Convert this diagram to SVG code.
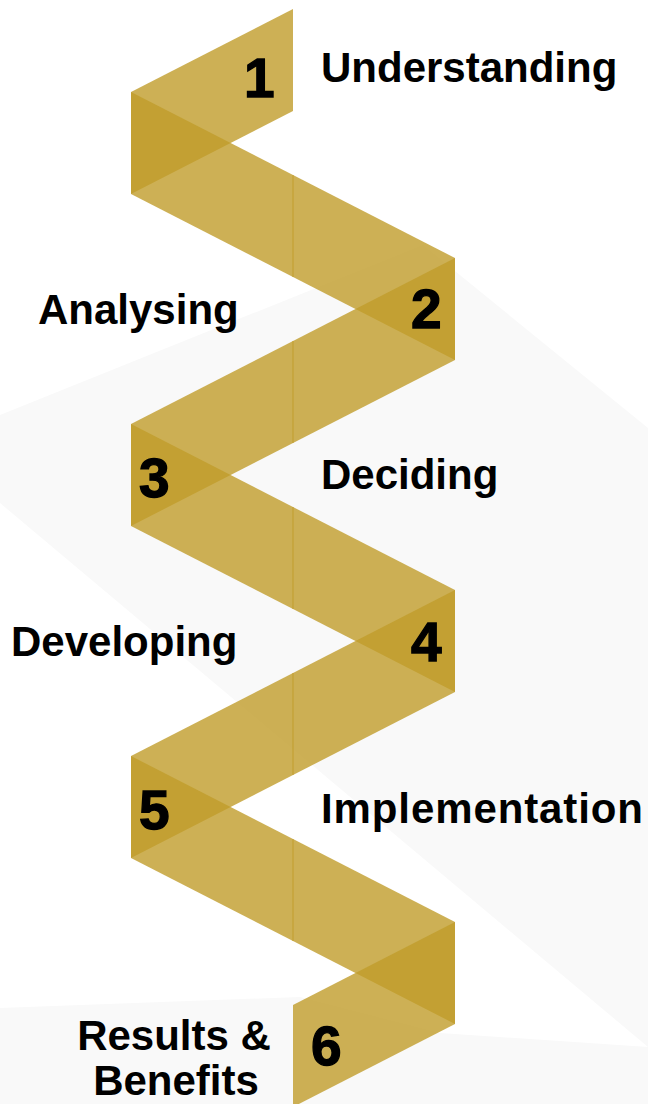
<svg xmlns="http://www.w3.org/2000/svg" width="648" height="1104" viewBox="0 0 648 1104">
  <style>
    .bg { fill: #f9f9f9; }
    .panel { fill: #c09c2a; fill-opacity: 0.8; }
    .seam { stroke: #c09c2a; stroke-opacity: 0.8; stroke-width: 1.2; fill: none; }
    .num { font-family: "Liberation Sans", Arial, sans-serif; font-weight: 700; font-size: 55px; fill: #000; stroke: #000; stroke-width: 1.3; }
    .label { font-family: "Liberation Sans", Arial, sans-serif; font-weight: 700; font-size: 42px; fill: #000; }
  </style>
  <rect x="0" y="0" width="648" height="1104" fill="#ffffff"/>
  <g id="background">
    <polygon class="bg" points="0,415 423,245 648,428 648,1047 0,503"/>
    <polygon class="bg" points="0,1008 300,997 440,1033 648,1047 648,1104 0,1104"/>
  </g>
  <g id="ribbon">
    <polygon class="panel" points="131,92 293,9 293,111 131,194"/>
    <polygon class="panel" points="131,92 455,258 455,360 131,194"/>
    <polygon class="panel" points="131,424 455,258 455,360 131,526"/>
    <polygon class="panel" points="131,424 455,590 455,692 131,526"/>
    <polygon class="panel" points="131,756 455,590 455,692 131,858"/>
    <polygon class="panel" points="131,756 455,922 455,1024 131,858"/>
    <polygon class="panel" points="293,1005 455,922 455,1024 293,1107"/>
    <line class="seam" x1="293" y1="175" x2="293" y2="277"/>
    <line class="seam" x1="293" y1="341" x2="293" y2="443"/>
    <line class="seam" x1="293" y1="507" x2="293" y2="609"/>
    <line class="seam" x1="293" y1="673" x2="293" y2="775"/>
    <line class="seam" x1="293" y1="839" x2="293" y2="941"/>
  </g>
  <g id="step1">
    <text class="num" x="244" y="97">1</text>
    <text class="label" x="321" y="82">Understanding</text>
  </g>
  <g id="step2">
    <text class="num" x="411" y="328">2</text>
    <text class="label" x="38" y="324">Analysing</text>
  </g>
  <g id="step3">
    <text class="num" x="139" y="497">3</text>
    <text class="label" x="321" y="489">Deciding</text>
  </g>
  <g id="step4">
    <text class="num" x="411" y="661">4</text>
    <text class="label" x="11" y="656">Developing</text>
  </g>
  <g id="step5">
    <text class="num" x="139" y="829">5</text>
    <text class="label" x="321" y="823" textLength="322" lengthAdjust="spacing">Implementation</text>
  </g>
  <g id="step6">
    <text class="num" x="311" y="1065">6</text>
    <text class="label" x="174" y="1050" text-anchor="middle">Results &amp;</text>
    <text class="label" x="176" y="1095" text-anchor="middle">Benefits</text>
  </g>
</svg>
